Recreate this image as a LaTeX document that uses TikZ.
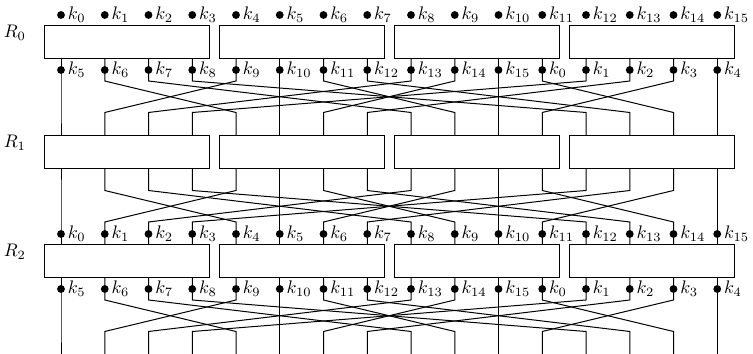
\documentclass[tikz,border=0pt]{standalone}
\begin{document}
\begin{tikzpicture}[x=0.55pt,y=-0.55pt,
  rbox/.style={draw, line width=0.55pt, fill=white, inner sep=0pt, minimum width=90.5pt, minimum height=17.9pt},
  keydot/.style={circle, fill=black, inner sep=0pt, minimum size=4.3pt},
  keylab/.style={anchor=base west, inner sep=0pt},
  rlab/.style={anchor=base west, inner sep=0pt},
  wire/.style={line width=0.55pt}]
\useasboundingbox (0,0) rectangle (753,354);
% wires
\foreach \r in {0,1,2} {
  \pgfmathsetmacro\B{58.5+109.5*\r}
  \foreach \i in {0,...,15} {
    \pgfmathsetmacro\xi{61+43.75*\i}
    \pgfmathtruncatemacro\j{4*mod(\i,4)+int(\i/4)}
    \pgfmathsetmacro\xj{61+43.75*\j}
    \coordinate (s\r-\i) at (\xi,\B);
    \coordinate (u\r-\i) at (\xi,\B+22.5);
    \coordinate (v\r-\i) at (\xj,\B+54);
    \coordinate (e\r-\i) at (\xj,\B+77);
    \draw[wire] (s\r-\i) -- (u\r-\i) -- (v\r-\i) -- (e\r-\i);
  }
}
% boxes and round labels
\foreach \r in {0,1,2} {
  \pgfmathsetmacro\T{26+109.5*\r}
  \pgfmathsetmacro\C{\T+16.25}
  \foreach \b in {0,...,3} {
    \pgfmathsetmacro\cx{126.75+175*\b}
    \node[rbox] (box\r-\b) at (\cx,\C) {};
  }
  \node[rlab] (R\r) at (3.5,\T+12) {$R_{\r}$};
}
% key dots
\foreach \i in {0,...,15} {
  \pgfmathsetmacro\xi{61+43.75*\i}
  \pgfmathtruncatemacro\m{mod(\i+5,16)}
  \node[keydot] (da\i) at (\xi,15) {};
  \node[keylab] (la\i) at (\xi+6.5,19.5) {$k_{\i}$};
  \node[keydot] (db\i) at (\xi,70) {};
  \node[keylab] (lb\i) at (\xi+6.5,74.5) {$k_{\m}$};
  \node[keydot] (dc\i) at (\xi,234) {};
  \node[keylab] (lc\i) at (\xi+6.5,238.5) {$k_{\i}$};
  \node[keydot] (dd\i) at (\xi,289) {};
  \node[keylab] (ld\i) at (\xi+6.5,293.5) {$k_{\m}$};
}
\end{tikzpicture}
\end{document}
